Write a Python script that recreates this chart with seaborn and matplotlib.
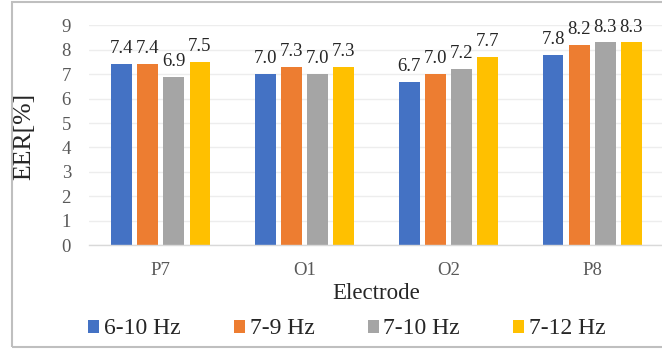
import pandas as pd
import matplotlib.pyplot as plt
import seaborn as sns
from matplotlib.patches import Rectangle, Patch

electrodes = ['P7', 'O1', 'O2', 'P8']
bands = ['6-10 Hz', '7-9 Hz', '7-10 Hz', '7-12 Hz']
eer_6_10 = [7.4, 7.0, 6.7, 7.8]
eer_7_9 = [7.4, 7.3, 7.0, 8.2]
eer_7_10 = [6.9, 7.0, 7.2, 8.3]
eer_7_12 = [7.5, 7.3, 7.7, 8.3]
colors = ['#4472C4', '#ED7D31', '#A5A5A5', '#FFC000']

series = [eer_6_10, eer_7_9, eer_7_10, eer_7_12]
rows = []
for band, vals in zip(bands, series):
    for el, v in zip(electrodes, vals):
        rows.append({'Electrode': el, 'Band': band, 'EER': v})
df = pd.DataFrame(rows)

sns.set_theme(style='white')
plt.rcParams['font.family'] = ['Liberation Serif', 'DejaVu Serif']

fig = plt.figure(figsize=(6.62, 3.49), dpi=100)
ax = fig.add_axes([89 / 662, 1 - 245 / 349, (664 - 89) / 662, (245 - 25.4) / 349])

sns.barplot(data=df, x='Electrode', y='EER', hue='Band', order=electrodes,
            hue_order=bands, palette=colors, width=0.725, gap=0.2,
            saturation=1, edgecolor='none', legend=False, ax=ax)

# value labels above each bar
for cont in ax.containers:
    ax.bar_label(cont, fmt='%.1f', padding=5, fontsize=13.5, color='#262626')

ax.set_ylim(0, 9)
ax.set_yticks(range(10))
ax.grid(axis='y', color='#ededed', linewidth=1)
ax.set_axisbelow(True)
for s in ['top', 'right', 'left']:
    ax.spines[s].set_visible(False)
ax.spines['bottom'].set_color('#d9d9d9')
ax.spines['bottom'].set_linewidth(1)
ax.tick_params(axis='both', length=0, labelsize=13.5, labelcolor='#595959')
ax.tick_params(axis='x', pad=12)
ax.tick_params(axis='y', pad=13)

ax.set_xlabel('Electrode', fontsize=16.5, color='#262626', labelpad=3)
ax.set_ylabel('EER[%]', fontsize=18.5, color='#262626')
ax.yaxis.set_label_coords(-0.094, 0.494)

handles = [Patch(facecolor=c, edgecolor='none') for c in colors]
fig.legend(handles, bands, loc='center', bbox_to_anchor=(347 / 662, 1 - 329 / 349),
           ncol=4, frameon=False, fontsize=17, handlelength=0.47, handleheight=0.47,
           handletextpad=0.2, columnspacing=2.25, labelcolor='#262626')

# chart border like the Excel chart area
fig.patches.append(Rectangle((12 / 662, 2 / 349), 0.99, 345 / 349, transform=fig.transFigure,
                             fill=False, edgecolor='#bfbfbf', linewidth=1.5))

fig.savefig('out.png', dpi=100)
